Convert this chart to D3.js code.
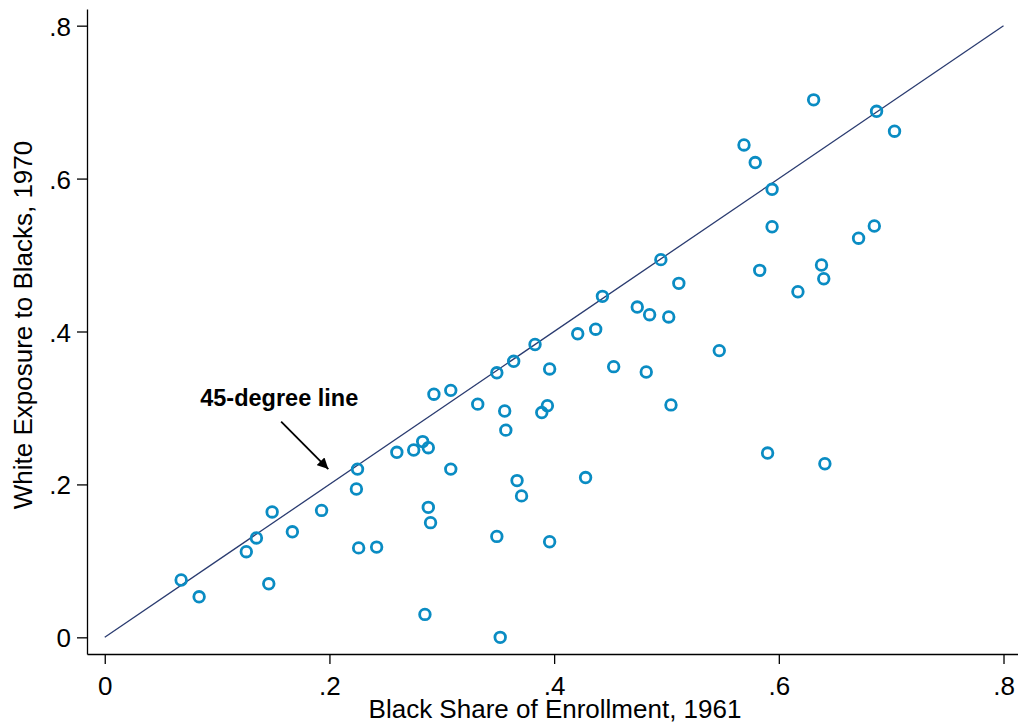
<!DOCTYPE html>
<html>
<head>
<meta charset="UTF-8" />
<title>White Exposure to Blacks</title>
<script src="https://d3js.org/d3.v7.min.js"></script>
<style>
body { margin: 0; background: white; }
svg { display: block; font-family: "Liberation Sans", Arial, Helvetica, sans-serif; }
.axis path, .axis line { stroke: black; stroke-width: 1.3; }
.axis text { font-size: 26px; fill: black; }
</style>
</head>
<body>
<svg id="chart" width="1018" height="727"></svg>
<script>
// black share of enrollment, 1961 (x) and white exposure to blacks, 1970 (y)
var blackShare1961 = [
  0.068, 0.084, 0.126, 0.135, 0.146, 0.149, 0.167, 0.193, 0.225, 0.224,
  0.226, 0.242, 0.260, 0.275, 0.283, 0.288, 0.288, 0.290, 0.285, 0.293,
  0.308, 0.308, 0.332, 0.349, 0.356, 0.357, 0.349, 0.352, 0.364, 0.367,
  0.371, 0.383, 0.389, 0.394, 0.396, 0.396, 0.421, 0.428, 0.437, 0.443,
  0.453, 0.474, 0.482, 0.485, 0.495, 0.502, 0.504, 0.511, 0.547, 0.569,
  0.579, 0.583, 0.590, 0.594, 0.594, 0.617, 0.631, 0.638, 0.640, 0.641,
  0.671, 0.685, 0.687, 0.703
];
var whiteExposure1970 = [
  0.075, 0.053, 0.112, 0.130, 0.070, 0.164, 0.138, 0.166, 0.220, 0.194,
  0.117, 0.118, 0.242, 0.245, 0.256, 0.248, 0.170, 0.150, 0.030, 0.318,
  0.323, 0.220, 0.305, 0.346, 0.296, 0.271, 0.132, 0.000, 0.361, 0.205,
  0.185, 0.383, 0.294, 0.303, 0.351, 0.125, 0.397, 0.209, 0.403, 0.446,
  0.354, 0.432, 0.347, 0.422, 0.494, 0.419, 0.304, 0.463, 0.375, 0.644,
  0.621, 0.480, 0.241, 0.586, 0.537, 0.452, 0.703, 0.487, 0.469, 0.227,
  0.522, 0.538, 0.688, 0.662
];
var xTicks = [0, 0.2, 0.4, 0.6, 0.8];
var yTicks = [0, 0.2, 0.4, 0.6, 0.8];
var refLine = [0, 0.8];            // 45-degree line runs from (0,0) to (.8,.8)
var noteText = "45-degree line";
var noteAt = [0.085, 0.302];       // label anchor, data units
var arrowFrom = [0.157, 0.282];
var arrowTo = [0.199, 0.220];

var svg = d3.select("#chart");
var plotLeft = 87, plotRight = 1018, plotTop = 9, plotBottom = 654;

var x = d3.scaleLinear().domain([-0.0158, 0.8129]).range([plotLeft, plotRight]);
var y = d3.scaleLinear().domain([-0.0218, 0.8218]).range([plotBottom, plotTop]);

// stata style labels: no leading zero
function fmt(d) {
  return d === 0 ? "0" : d3.format(".1f")(d).replace(/^0/, "");
}

var xAxis = svg.append("g").attr("class", "axis")
  .attr("transform", "translate(0," + plotBottom + ")")
  .call(d3.axisBottom(x).tickValues(xTicks).tickFormat(fmt).tickSize(10).tickPadding(13).tickSizeOuter(0));
xAxis.selectAll("text").attr("dy", "0.71em");

var yAxis = svg.append("g").attr("class", "axis")
  .attr("transform", "translate(" + plotLeft + ",0)")
  .call(d3.axisLeft(y).tickValues(yTicks).tickFormat(fmt).tickSize(10).tickPadding(6).tickSizeOuter(0));
yAxis.selectAll("text").attr("dy", "9.5px");

// axis titles
svg.append("text")
  .attr("x", 555).attr("y", 718)
  .attr("text-anchor", "middle")
  .attr("font-size", "26px")
  .text("Black Share of Enrollment, 1961");

svg.append("text")
  .attr("transform", "translate(31.5,325) rotate(-90)")
  .attr("text-anchor", "middle")
  .attr("font-size", "26px")
  .text("White Exposure to Blacks, 1970");

// 45 degree line
svg.append("line")
  .attr("x1", x(refLine[0])).attr("y1", y(refLine[0]))
  .attr("x2", x(refLine[1])).attr("y2", y(refLine[1]))
  .attr("stroke", "#2a3b70").attr("stroke-width", 1.3);

// points
var pts = blackShare1961.map(function(v, i) { return { x: v, y: whiteExposure1970[i] }; });
svg.append("g").selectAll("circle").data(pts).enter()
  .append("circle")
  .attr("cx", function(d) { return x(d.x); })
  .attr("cy", function(d) { return y(d.y); })
  .attr("r", 5.3)
  .attr("fill", "none")
  .attr("stroke", "#0a8cc3")
  .attr("stroke-width", 2.8);

// annotation with arrow
svg.append("defs").append("marker")
  .attr("id", "head")
  .attr("viewBox", "0 0 10 10")
  .attr("refX", 10).attr("refY", 5)
  .attr("markerWidth", 12).attr("markerHeight", 11)
  .attr("markerUnits", "userSpaceOnUse")
  .attr("orient", "auto")
  .append("path").attr("d", "M0,0 L10,5 L0,10 Z").attr("fill", "black");

svg.append("line")
  .attr("x1", x(arrowFrom[0])).attr("y1", y(arrowFrom[1]))
  .attr("x2", x(arrowTo[0])).attr("y2", y(arrowTo[1]))
  .attr("stroke", "black").attr("stroke-width", 1.8)
  .attr("marker-end", "url(#head)");

svg.append("text")
  .attr("x", x(noteAt[0])).attr("y", y(noteAt[1]))
  .attr("font-size", "23.5px")
  .attr("font-weight", "bold")
  .text(noteText);
</script>
</body>
</html>
